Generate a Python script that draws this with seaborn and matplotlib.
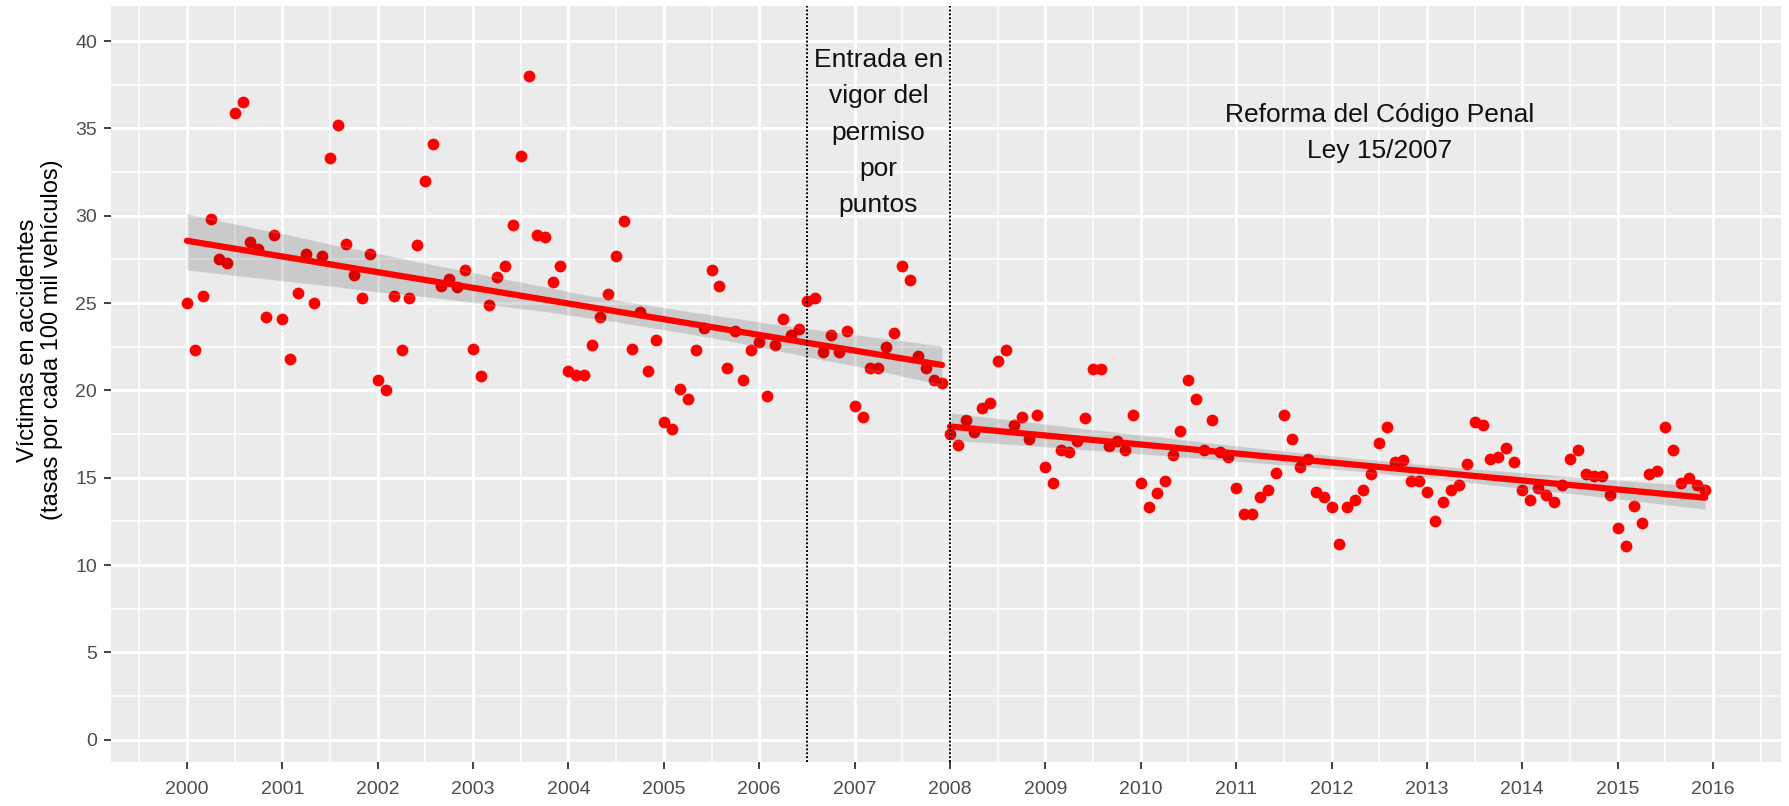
import numpy as np
import pandas as pd
import matplotlib
matplotlib.use('Agg')
import matplotlib.pyplot as plt
import seaborn as sns
from matplotlib.ticker import MultipleLocator

sns.set_theme(style='darkgrid')
plt.rcParams['font.family'] = ['Liberation Sans', 'DejaVu Sans']

# victimas por cada 100 mil vehiculos, un valor por mes (ene..dic)
v2000 = [25.0, 22.3, 25.4, 29.8, 27.5, 27.3, 35.9, 36.5, 28.5, 28.1, 24.2, 28.9]
v2001 = [24.1, 21.8, 25.6, 27.8, 25.0, 27.7, 33.3, 35.2, 28.4, 26.6, 25.3, 27.8]
v2002 = [20.6, 20.0, 25.4, 22.3, 25.3, 28.3, 32.0, 34.1, 26.0, 26.4, 25.9, 26.9]
v2003 = [22.4, 20.8, 24.9, 26.5, 27.1, 29.5, 33.4, 38.0, 28.9, 28.8, 26.2, 27.1]
v2004 = [21.1, 20.9, 20.9, 22.6, 24.2, 25.5, 27.7, 29.7, 22.4, 24.5, 21.1, 22.9]
v2005 = [18.2, 17.8, 20.1, 19.5, 22.3, 23.6, 26.9, 26.0, 21.3, 23.4, 20.6, 22.3]
v2006 = [22.8, 19.7, 22.6, 24.1, 23.2, 23.5, 25.1, 25.3, 22.2, 23.2, 22.2, 23.4]
v2007 = [19.1, 18.5, 21.3, 21.3, 22.5, 23.3, 27.1, 26.3, 22.0, 21.3, 20.6, 20.4]
v2008 = [17.5, 16.9, 18.3, 17.6, 19.0, 19.3, 21.7, 22.3, 18.0, 18.5, 17.2, 18.6]
v2009 = [15.6, 14.7, 16.6, 16.5, 17.1, 18.4, 21.2, 21.2, 16.8, 17.1, 16.6, 18.6]
v2010 = [14.7, 13.3, 14.1, 14.8, 16.3, 17.7, 20.6, 19.5, 16.6, 18.3, 16.5, 16.2]
v2011 = [14.4, 12.9, 12.9, 13.9, 14.3, 15.3, 18.6, 17.2, 15.6, 16.1, 14.2, 13.9]
v2012 = [13.3, 11.2, 13.3, 13.7, 14.3, 15.2, 17.0, 17.9, 15.9, 16.0, 14.8, 14.8]
v2013 = [14.2, 12.5, 13.6, 14.3, 14.6, 15.8, 18.2, 18.0, 16.1, 16.2, 16.7, 15.9]
v2014 = [14.3, 13.7, 14.4, 14.0, 13.6, 14.6, 16.1, 16.6, 15.2, 15.1, 15.1, 14.0]
v2015 = [12.1, 11.1, 13.4, 12.4, 15.2, 15.4, 17.9, 16.6, 14.7, 15.0, 14.6, 14.3]

valores = (v2000 + v2001 + v2002 + v2003 + v2004 + v2005 + v2006 + v2007 +
           v2008 + v2009 + v2010 + v2011 + v2012 + v2013 + v2014 + v2015)

cambios = [2006.5, 2008]
textos = ['Entrada en\nvigor del\npermiso\npor\npuntos',
          'Reforma del Código Penal\nLey 15/2007']
texto_x = [2007.25, 2012.5]
texto_y = [34.75, 34.75]

fechas = pd.date_range('2000-01-01', periods=len(valores), freq='MS')
df = pd.DataFrame({'fecha': fechas.year + (fechas.month - 1) / 12,
                   'victimas': valores})
df['periodo'] = np.where(df['fecha'] < 2008, 'antes', 'despues')

fig, ax = plt.subplots(figsize=(17.9, 8.06), dpi=100)
fig.subplots_adjust(left=0.062, right=0.995, top=0.993, bottom=0.054)
ax.set_facecolor('#EBEBEB')

sns.scatterplot(data=df, x='fecha', y='victimas', color='red', s=72,
                linewidth=0, ax=ax)
for p in ['antes', 'despues']:
    sub = df[df['periodo'] == p]
    # banda de confianza gris
    sns.regplot(data=sub, x='fecha', y='victimas', scatter=False, ci=95,
                seed=3, color='#101010', line_kws={'linewidth': 0}, ax=ax)
    sns.regplot(data=sub, x='fecha', y='victimas', scatter=False, ci=None,
                color='red', line_kws={'linewidth': 4.5}, ax=ax)

for c in cambios:
    ax.axvline(c, color='black', linestyle=(0, (1, 1)), linewidth=1.4)
for tx, xx, yy in zip(textos, texto_x, texto_y):
    ax.text(xx, yy, tx, ha='center', va='center', fontsize=19,
            linespacing=1.65, color='#111111')

ax.set_xlim(1999.204, 2016.713)
ax.set_ylim(-1.3, 42.03)
ax.set_xticks(range(2000, 2017))
ax.set_yticks(range(0, 41, 5))
ax.xaxis.set_minor_locator(MultipleLocator(0.5))
ax.yaxis.set_minor_locator(MultipleLocator(2.5))
ax.grid(which='major', color='white', linewidth=2.2)
ax.grid(which='minor', color='white', linewidth=1.1)
ax.set_axisbelow(True)
for s in ax.spines.values():
    s.set_visible(False)
ax.tick_params(which='major', bottom=True, left=True, length=5, width=1.3,
               color='#333333', labelcolor='#4D4D4D', labelsize=14)
ax.tick_params(axis='x', which='major', pad=8)
ax.tick_params(axis='y', which='major', pad=5)
ax.tick_params(which='minor', length=0)

ax.set_xlabel('')
ax.set_ylabel('Víctimas en accidentes\n(tasas por cada 100 mil vehículos)',
              fontsize=17, color='black', linespacing=1.1)
ax.yaxis.set_label_coords(-0.029, 0.558)

fig.savefig('out.png', dpi=100)
